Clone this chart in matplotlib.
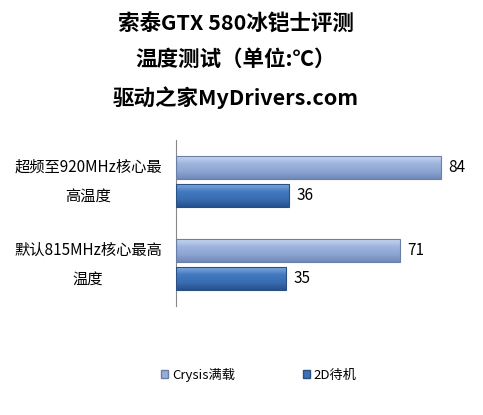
import numpy as np
import matplotlib
matplotlib.use("Agg")
import matplotlib.pyplot as plt
from matplotlib.colors import LinearSegmentedColormap
from matplotlib.patches import Patch

plt.rcParams['font.family'] = ['Noto Sans CJK SC', 'DejaVu Sans']

categories = ["超频至920MHz核心最\n高温度", "默认815MHz核心最高\n温度"]
series_names = ["Crysis满载", "2D待机"]
crysis = [84, 71]
idle = [36, 35]
title_lines = ["索泰GTX 580冰铠士评测", "温度测试（单位:℃）", "驱动之家MyDrivers.com"]

W, H = 483, 415
fig = plt.figure(figsize=(W / 100, H / 100), dpi=100)
fig.patch.set_facecolor("white")
ax = fig.add_axes([176 / W, 1 - 306 / H, (459.5 - 176) / W, 166 / H])

ypos = np.arange(len(categories))
bh = 0.277
off = 0.165

cmap_c = LinearSegmentedColormap.from_list("c", ["#C6D6EE", "#9DB4DD", "#8CA5D2", "#7189BA"])
cmap_i = LinearSegmentedColormap.from_list("i", ["#7FA8DE", "#4279C0", "#3A6DB1", "#24528F"])
edge_c = "#6B7FA6"
edge_i = "#2A4F80"

bars_c = ax.barh(ypos - off, crysis, height=bh, color="#95AEDA", edgecolor=edge_c, linewidth=0.8, zorder=2)
bars_i = ax.barh(ypos + off, idle, height=bh, color="#3D72B8", edgecolor=edge_i, linewidth=0.8, zorder=2)

grad = np.linspace(0, 1, 64).reshape(-1, 1)
for bars, cm in ((bars_c, cmap_c), (bars_i, cmap_i)):
    for b in bars:
        x0, y0 = b.get_x(), b.get_y()
        w, h = b.get_width(), b.get_height()
        im = ax.imshow(grad, cmap=cm, aspect="auto", extent=(x0, x0 + w, y0 + h, y0),
                       zorder=2.5, interpolation="bilinear")
        im.set_clip_path(b)
        b.set_facecolor("none")
        b.set_zorder(3)

for b, v in zip(bars_c, crysis):
    ax.text(v + 2.3, b.get_y() + b.get_height() / 2, str(v), va="center", ha="left", fontsize=11)
for b, v in zip(bars_i, idle):
    ax.text(v + 2.3, b.get_y() + b.get_height() / 2, str(v), va="center", ha="left", fontsize=11)

ax.set_xlim(0, 90)
ax.set_ylim(1.5, -0.5)
ax.set_xticks([])
ax.set_yticks([])
for s in ("top", "right", "bottom"):
    ax.spines[s].set_visible(False)
ax.spines["left"].set_color("#888888")
ax.spines["left"].set_linewidth(0.8)

for y, lab in zip(ypos, categories):
    ax.text(-0.31, y, lab, transform=ax.get_yaxis_transform(), ha="center", va="center",
            fontsize=11, linespacing=1.95)

for i, line in enumerate(title_lines):
    fig.text(236 / W, 1 - [24, 59, 98][i] / H, line, ha="center", va="center",
             fontsize=15.5, fontweight="bold")

handles = [Patch(facecolor="#95AEDA", edgecolor=edge_c), Patch(facecolor="#3D72B8", edgecolor=edge_i)]
fig.legend(handles, series_names, loc="center", bbox_to_anchor=(259 / W, 1 - 375 / H), ncol=2,
           frameon=False, fontsize=9.5, handlelength=0.55, handleheight=0.55, handletextpad=0.3,
           columnspacing=5.1)

fig.savefig("out.png", dpi=100, facecolor="white")
